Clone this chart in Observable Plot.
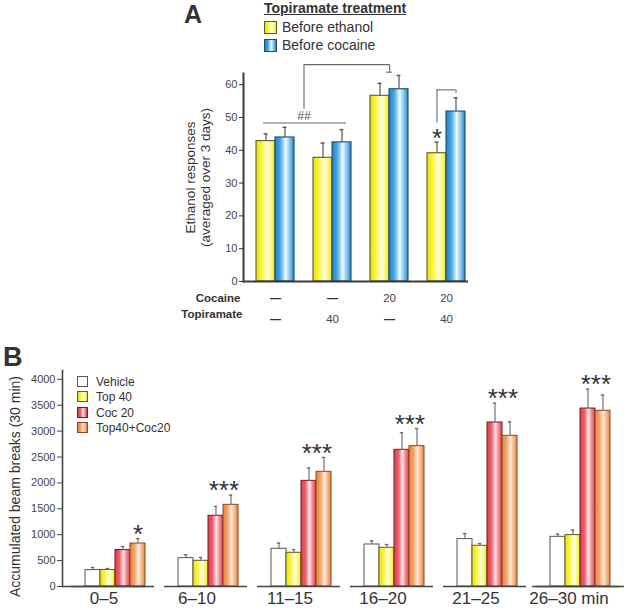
<!DOCTYPE html>
<html>
<head>
<meta charset="utf-8">
<script src="https://cdn.jsdelivr.net/npm/d3@7"></script>
<script src="https://cdn.jsdelivr.net/npm/@observablehq/plot@0.6"></script>
<style>
  body { margin: 0; background: #fff; font-family: "Liberation Sans", Arial, sans-serif; color: #333; }
  #wrap { position: relative; width: 629px; height: 610px; overflow: hidden; background: #fff; }
  .panel { position: absolute; left: 0; }
</style>
</head>
<body>
<div id="wrap"></div>
<script>
// ---------------- Panel A data ----------------
const groupsA = ["g1", "g2", "g3", "g4"];
const cocaineDose = ["—", "—", "20", "20"];
const topiramateDose = ["—", "40", "—", "40"];
const seriesA = ["Before ethanol", "Before cocaine"];
const beforeEthanolMean = [42.8, 37.7, 56.6, 39.1];
const beforeEthanolSem = [2.2, 4.5, 3.8, 3.4];
const beforeCocaineMean = [43.9, 42.4, 58.6, 51.8];
const beforeCocaineSem = [3.1, 3.9, 4.2, 4.2];
const yTicksA = [0, 10, 20, 30, 40, 50, 60];
// significance annotations (data units)
const hashLine = [{x1: "g1|eth", x2: "g2|coc", y: 48.3, label: "##"}];
const topBracket = [{stemX: "g1|gap", stemY1: 52.5, y: 66.1, endX: "g3|eth", dropY: 63.8}];
const g4Bracket = [{leftX: "g4|eth", rightX: "g4|coc", y1: 48.3, y: 58.4, dropY: 57.4}];
const starA = [{x: "g4|eth", text: "*"}];

// ---------------- Panel B data ----------------
const intervals = ["0–5", "6–10", "11–15", "16–20", "21–25", "26–30 min"];
const seriesB = ["Vehicle", "Top 40", "Coc 20", "Top40+Coc20"];
const vehicleMean = [317, 548, 728, 811, 915, 959];
const vehicleSem = [50, 64, 110, 71, 108, 52];
const top40Mean = [320, 496, 651, 747, 786, 992];
const top40Sem = [27, 64, 63, 64, 44, 97];
const coc20Mean = [703, 1365, 2040, 2639, 3166, 3436];
const coc20Sem = [69, 180, 246, 328, 374, 374];
const top40coc20Mean = [830, 1577, 2214, 2710, 2909, 3392];
const top40coc20Sem = [97, 187, 277, 340, 270, 303];
const starsB = ["*", "***", "***", "***", "***", "***"];
const yTicksB = [0, 500, 1000, 1500, 2000, 2500, 3000, 3500, 4000];

// ---------------- styles ----------------
const gradients = {
  gYellow: [[0, "#e6df1c"], [0.3, "#fbf53a"], [0.6, "#fffde8"], [0.82, "#fcf86a"], [1, "#e9e21e"]],
  gBlue: [[0, "#2580c2"], [0.28, "#45a9e2"], [0.56, "#f0f9fd"], [0.8, "#7cc2ea"], [1, "#2580c2"]],
  gRed: [[0, "#d8404c"], [0.3, "#ef5f6c"], [0.56, "#fde6e8"], [0.78, "#f2858f"], [1, "#d8404c"]],
  gOrange: [[0, "#e5843f"], [0.3, "#f4a46a"], [0.56, "#fdeadb"], [0.78, "#f6b688"], [1, "#e5843f"]],
  gWhite: [[0, "#ffffff"], [1, "#ffffff"]]
};
function addDefs(svg) {
  const ns = "http://www.w3.org/2000/svg";
  const defs = document.createElementNS(ns, "defs");
  for (const [id, stops] of Object.entries(gradients)) {
    const lg = document.createElementNS(ns, "linearGradient");
    lg.setAttribute("id", id);
    lg.setAttribute("x1", "0"); lg.setAttribute("x2", "1");
    lg.setAttribute("y1", "0"); lg.setAttribute("y2", "0");
    for (const [o, c] of stops) {
      const s = document.createElementNS(ns, "stop");
      s.setAttribute("offset", o);
      s.setAttribute("stop-color", c);
      lg.appendChild(s);
    }
    defs.appendChild(lg);
  }
  svg.insertBefore(defs, svg.firstChild);
}
const cssGrad = (id) => "linear-gradient(to right," + gradients[id].map(([o, c]) => c + " " + (o * 100) + "%").join(",") + ")";

const FONT = "Liberation Sans, Arial, sans-serif";
const wrap = document.getElementById("wrap");

// ================= Panel A =================
const xDomainA = [];
groupsA.forEach((g, i) => {
  xDomainA.push(g + "|eth", g + "|coc");
  if (i < groupsA.length - 1) xDomainA.push(g + "|gap");
});
const rowsA = groupsA.flatMap((g, i) => [
  {group: g, key: g + "|eth", series: seriesA[0], mean: beforeEthanolMean[i], sem: beforeEthanolSem[i]},
  {group: g, key: g + "|coc", series: seriesA[1], mean: beforeCocaineMean[i], sem: beforeCocaineSem[i]}
]);
const doseRows = groupsA.map((g, i) => ({key: g + "|eth", cocaine: cocaineDose[i], topiramate: topiramateDose[i]}));

const mA = {left: 243, right: 161, top: 73, bottom: 54};
const WA = 629, HA = 335;
const poA = 0.39;
const bwA = (WA - mA.left - mA.right) / (xDomainA.length + 2 * poA);
const annA = "#6a6a6a";

const chartA = Plot.plot({
  width: WA, height: HA,
  marginLeft: mA.left, marginRight: mA.right, marginTop: mA.top, marginBottom: mA.bottom,
  style: {fontFamily: FONT, fontSize: "11px", color: "#333", background: "transparent", overflow: "visible"},
  x: {domain: xDomainA, paddingInner: 0, paddingOuter: poA, align: 0.8, axis: null},
  y: {domain: [0, 63.4], axis: null},
  marks: [
    Plot.barY(rowsA.filter(d => d.series === seriesA[0]), {x: "key", y: "mean", fill: "url(#gYellow)", stroke: "#5f5c2c", strokeWidth: 1.1}),
    Plot.barY(rowsA.filter(d => d.series === seriesA[1]), {x: "key", y: "mean", fill: "url(#gBlue)", stroke: "#1d4c72", strokeWidth: 1.1}),
    Plot.ruleX(rowsA, {x: "key", y1: "mean", y2: d => d.mean + d.sem, stroke: "#555", strokeWidth: 1.2}),
    Plot.tickY(rowsA, {x: "key", y: d => d.mean + d.sem, insetLeft: (bwA - 4) / 2, insetRight: (bwA - 4) / 2, stroke: "#555", strokeWidth: 1.4}),
    Plot.ruleY([0], {stroke: "#3a3a3a", strokeWidth: 2}),
    Plot.frame({anchor: "left", stroke: "#3a3a3a", strokeWidth: 2}),
    Plot.axisY({ticks: yTicksA, tickSize: 4, tickPadding: 2, fontSize: 11, label: null, stroke: "#333", fill: "#444"}),
    // ## line
    Plot.ruleY(hashLine, {x1: "x1", x2: "x2", y: "y", insetLeft: 7, insetRight: 5, stroke: "#9a9a9a", strokeWidth: 1.5}),
    Plot.text(hashLine, {x: () => "g1|gap", y: "y", text: "label", dy: -7, fontSize: 12, fill: "#555", fontStyle: "italic"}),
    // top bracket
    Plot.ruleX(topBracket, {x: "stemX", y1: "stemY1", y2: "y", stroke: annA, strokeWidth: 1.1}),
    Plot.ruleY(topBracket, {x1: "stemX", x2: "endX", y: "y", insetLeft: bwA / 2, stroke: annA, strokeWidth: 1.1}),
    Plot.ruleX(topBracket, {x: "endX", y1: "dropY", y2: "y", dx: bwA / 2, stroke: annA, strokeWidth: 1.1}),
    Plot.ruleY(topBracket, {x1: "endX", x2: "endX", y: "dropY", insetLeft: bwA - 3, insetRight: -3, stroke: annA, strokeWidth: 1.1}),
    // group-4 bracket
    Plot.ruleX(g4Bracket, {x: "leftX", y1: "y1", y2: "y", stroke: annA, strokeWidth: 1.1}),
    Plot.ruleY(g4Bracket, {x1: "leftX", x2: "rightX", y: "y", insetLeft: bwA / 2, insetRight: bwA / 2, stroke: annA, strokeWidth: 1.1}),
    Plot.ruleX(g4Bracket, {x: "rightX", y1: "dropY", y2: "y", stroke: annA, strokeWidth: 1.1}),
    Plot.text(starA, {x: "x", y: () => beforeEthanolMean[3] + beforeEthanolSem[3], text: "text", dy: -3, fontSize: 26, fill: "#333"}),
    // y title
    Plot.text(["Ethanol responses\n(averaged over 3 days)"], {text: d => d, frameAnchor: "left", textAnchor: "middle", rotate: -90, dx: -46, fontSize: 13.5, lineHeight: 1.12, fill: "#333"}),
    // dose rows
    Plot.text(["Cocaine"], {text: d => d, frameAnchor: "bottom-left", dx: -3, dy: 20, textAnchor: "end", fontWeight: "bold", fontSize: 11.5, fill: "#333"}),
    Plot.text(["Topiramate"], {text: d => d, frameAnchor: "bottom-left", dx: -1, dy: 36, textAnchor: "end", fontWeight: "bold", fontSize: 11.5, fill: "#333"}),
    Plot.text(doseRows.filter(d => d.cocaine === "—"), {x: "key", text: "cocaine", frameAnchor: "bottom", dx: bwA / 2, dy: 20, fontSize: 11, fontWeight: "bold", fill: "#333"}),
    Plot.text(doseRows.filter(d => d.cocaine !== "—"), {x: "key", text: "cocaine", frameAnchor: "bottom", dx: bwA / 2, dy: 20, fontSize: 11.5, fill: "#444"}),
    Plot.text(doseRows.filter(d => d.topiramate === "—"), {x: "key", text: "topiramate", frameAnchor: "bottom", dx: bwA / 2, dy: 41, fontSize: 11, fontWeight: "bold", fill: "#333"}),
    Plot.text(doseRows.filter(d => d.topiramate !== "—"), {x: "key", text: "topiramate", frameAnchor: "bottom", dx: bwA / 2, dy: 41, fontSize: 11.5, fill: "#444"})
  ]
});
addDefs(chartA);
chartA.setAttribute("class", "panel");
chartA.style.top = "0px";
wrap.appendChild(chartA);

// ================= Panel B =================
const meansB = [vehicleMean, top40Mean, coc20Mean, top40coc20Mean];
const semsB = [vehicleSem, top40Sem, coc20Sem, top40coc20Sem];
const fillsB = ["url(#gWhite)", "url(#gYellow)", "url(#gRed)", "url(#gOrange)"];
const strokesB = ["#555555", "#5f5c2c", "#6e1f24", "#8a4a22"];
const rowsB = intervals.flatMap((iv, i) => seriesB.map((s, j) => ({interval: iv, series: s, mean: meansB[j][i], sem: semsB[j][i]})));
const starRows = intervals.map((iv, i) => ({
  interval: iv, text: starsB[i],
  top: Math.max(...meansB.map((m, j) => m[i] + semsB[j][i]))
}));

const WB = 629, HB = 280;
const mB = {left: 59, right: 17, top: 40, bottom: 24};
const fxPad = 0.11, xPoB = 0.673;
const stepFx = (WB - mB.left - mB.right) / (intervals.length - fxPad);
const fbw = stepFx * (1 - fxPad);
const bwB = fbw / (seriesB.length + 2 * xPoB);

const chartB = Plot.plot({
  width: WB, height: HB,
  marginLeft: mB.left, marginRight: mB.right, marginTop: mB.top, marginBottom: mB.bottom,
  style: {fontFamily: FONT, fontSize: "11px", color: "#333", background: "transparent", overflow: "visible"},
  fx: {domain: intervals, paddingInner: fxPad, paddingOuter: 0, axis: null},
  x: {domain: seriesB, paddingInner: 0, paddingOuter: xPoB, align: 1, axis: null},
  y: {domain: [0, 4170], axis: null},
  marks: [
    ...seriesB.map((s, j) => Plot.barY(rowsB.filter(d => d.series === s), {fx: "interval", x: "series", y: "mean", fill: fillsB[j], stroke: strokesB[j], strokeWidth: 1})),
    Plot.ruleX(rowsB, {fx: "interval", x: "series", y1: "mean", y2: d => d.mean + d.sem, stroke: "#666", strokeWidth: 1.1}),
    Plot.tickY(rowsB, {fx: "interval", x: "series", y: d => d.mean + d.sem, insetLeft: (bwB - 4) / 2, insetRight: (bwB - 4) / 2, stroke: "#666", strokeWidth: 1.3}),
    // baselines per interval
    Plot.ruleY([0], {insetLeft: 9, insetRight: -9, stroke: "#444", strokeWidth: 1.6}),
    Plot.ruleY([intervals[0]], {fx: d => d, y: () => 0, stroke: "#444", strokeWidth: 1.6}),
    Plot.ruleY([intervals[intervals.length - 1]], {fx: d => d, y: () => 0, insetLeft: 5, insetRight: -14, stroke: "#444", strokeWidth: 1.6}),
    Plot.frame({anchor: "left", facet: "super", stroke: "#444", strokeWidth: 1.6}),
    Plot.axisY({ticks: yTicksB, tickFormat: d3.format("d"), tickSize: 5, tickPadding: 2, fontSize: 11, label: null, stroke: "#444", fill: "#444"}),
    Plot.axisFx({anchor: "bottom", tickSize: 0, tickPadding: 5, fontSize: 17, label: null, fill: "#333"}),
    // significance stars
    Plot.text(starRows.filter(d => d.text === "*"), {fx: "interval", x: () => seriesB[3], y: "top", text: "text", dy: -4, fontSize: 26, fill: "#333"}),
    Plot.text(starRows.filter(d => d.text !== "*"), {fx: "interval", x: () => seriesB[2], y: "top", text: "text", dx: bwB / 2, dy: -4, fontSize: 26, fill: "#333"}),
    // y title
    Plot.text([{interval: intervals[0], t: "Accumulated beam breaks (30 min)"}], {fx: "interval", text: "t", frameAnchor: "left", textAnchor: "middle", rotate: -90, dx: -47, dy: 8, fontSize: 14, fill: "#333"})
  ]
});
addDefs(chartB);
chartB.setAttribute("class", "panel");
chartB.style.top = "330px";
wrap.appendChild(chartB);

// ================= Headings & legends (HTML) =================
function addDiv(html, css) {
  const d = document.createElement("div");
  d.textContent = html;
  d.setAttribute("style", css);
  wrap.appendChild(d);
  return d;
}
addDiv("A", "position:absolute;left:184px;top:2px;font-size:25px;font-weight:bold;line-height:25px;color:#333");
addDiv("B", "position:absolute;left:3px;top:344px;font-size:27px;font-weight:bold;line-height:27px;color:#333");

// Legend A
const legendATitle = "Topiramate treatment";
const legendAItems = [{label: seriesA[0], grad: "gYellow", stroke: "#5f5c2c"}, {label: seriesA[1], grad: "gBlue", stroke: "#1d4c72"}];
addDiv(legendATitle, "position:absolute;left:264px;top:1px;font-size:14px;font-weight:bold;line-height:15px;text-decoration:underline;color:#333;white-space:nowrap");
legendAItems.forEach((it, i) => {
  addDiv("", `position:absolute;left:264px;top:${21 + i * 17.7}px;width:13px;height:13px;box-sizing:border-box;border:1px solid ${it.stroke};background:${cssGrad(it.grad)}`);
  addDiv(it.label, `position:absolute;left:282px;top:${20 + i * 17.7}px;font-size:14px;line-height:15px;color:#333;white-space:nowrap`);
});

// Legend B
seriesB.forEach((s, j) => {
  addDiv("", `position:absolute;left:77px;top:${376 + j * 15.3}px;width:11px;height:11px;box-sizing:border-box;border:1px solid ${strokesB[j]};background:${j === 0 ? "#fff" : cssGrad(fillsB[j].slice(5, -1))}`);
  addDiv(s, `position:absolute;left:96px;top:${375 + j * 15.3}px;font-size:12px;line-height:14px;color:#333;white-space:nowrap`);
});
</script>
</body>
</html>
